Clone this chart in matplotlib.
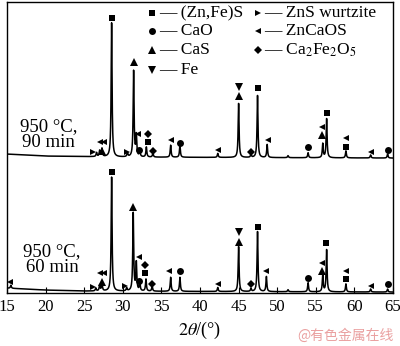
import numpy as np
import matplotlib
matplotlib.use('Agg')
import matplotlib.pyplot as plt

plt.rcParams['font.family'] = ['Liberation Serif', 'DejaVu Serif']
plt.rcParams['mathtext.fontset'] = 'stix'

# ---- data (intensity in arbitrary units) ----
# upper pattern: 950 C, 90 min
up_base_x = [15, 20, 30, 65]
up_base_y = [139, 137, 136, 135]
up_pk_x = [26.6, 27.0, 27.3, 28.55, 30.6, 31.4, 31.75, 32.2, 33.05, 33.9,
           36.2, 37.4, 42.3, 45.0, 46.6, 47.45, 48.7, 51.4, 54.0, 55.9,
           56.4, 58.9, 62.1, 64.3]
up_pk_h = [4, 6, 8, 134, 4, 86, 21, 6, 10, 4,
           12, 12, 4, 54, 3, 62, 13, 2, 5, 14,
           39, 7, 3, 4]

# lower pattern: 950 C, 60 min
lo_base_x = [15, 20, 25, 65]
lo_base_y = [5, 3, 2, 1]
lo_pk_x = [15.5, 26.5, 27.0, 27.3, 28.55, 30.5, 31.35, 31.75, 32.2, 33.0,
           33.8, 36.2, 37.4, 42.3, 45.0, 46.6, 47.45, 48.6, 51.4, 54.0,
           55.9, 56.4, 58.9, 62.1, 64.3]
lo_pk_h = [3, 3, 6, 8, 114, 3, 78, 28, 8, 12,
           5, 14, 14, 4, 45, 3, 60, 15, 2, 9,
           17, 42, 8, 3, 3]

# phase markers: (2theta, height) for both patterns
phases = {
    'sq': ([28.55, 33.2, 47.45, 56.45, 58.9, 28.55, 32.9, 47.45, 56.3, 58.9],
           [275, 151, 205, 180, 146, 121, 20, 66, 50, 14]),
    'ci': ([32.15, 37.4, 54.0, 64.35, 32.1, 37.4, 54.0, 64.3],
           [143, 150, 146, 143, 12, 22, 15, 9]),
    'tu': ([27.35, 31.4, 45.0, 55.85, 27.35, 31.3, 45.0, 55.85],
           [142, 231, 197, 158, 11, 86, 51, 22]),
    'td': ([45.0, 45.0], [206, 61]),
    'tr': ([26.2, 30.6, 26.2, 30.3], [141, 141, 6, 7]),
    'tl': ([27.1, 27.6, 32.0, 36.2, 42.3, 48.8, 55.85, 58.9, 62.1,
            27.1, 27.6, 32.1, 36.0, 42.3, 48.6, 55.85, 58.9, 62.1, 15.4],
           [151, 151, 159, 153, 143, 153, 166, 155, 141,
            20, 20, 36, 22, 9, 22, 30, 22, 7, 11]),
    'di': ([33.2, 33.85, 46.6, 32.9, 33.8, 46.6],
           [159, 142, 141, 28, 9, 9]),
}
mk = {'sq': 's', 'ci': 'o', 'tu': '^', 'td': 'v', 'tr': '>', 'tl': '<', 'di': 'D'}
msz = {'sq': 5, 'ci': 5, 'tu': 5.5, 'td': 5.5, 'tr': 5, 'tl': 5, 'di': 4}

legend_items = [('sq', '— (Zn,Fe)S'), ('ci', '— CaO'), ('tu', '— CaS'), ('td', '— Fe'),
                ('tr', '— ZnS wurtzite'), ('tl', '— ZnCaOS'),
                ('di', '— Ca$_2$Fe$_2$O$_5$')]

# ---- build profiles ----
x = np.linspace(15, 65, 5001)


def pattern(bx, by, px, ph, w=0.07):
    y = np.interp(x, bx, by)
    for p, h in zip(px, ph):
        y = y + h / (1 + ((x - p) / w) ** 2)
    return y


y_up = pattern(up_base_x, up_base_y, up_pk_x, up_pk_h)
y_lo = pattern(lo_base_x, lo_base_y, lo_pk_x, lo_pk_h)

fig = plt.figure(figsize=(4, 3.46), dpi=100)
ax = fig.add_axes([0.0175, 0.153, 0.965, 0.841])

ax.plot(x, y_up, 'k-', linewidth=1.1)
ax.plot(x, y_lo, 'k-', linewidth=1.1)

for key, (mx, my) in phases.items():
    ax.plot(mx, my, linestyle='none', marker=mk[key], color='k',
            markersize=msz[key], markeredgewidth=0)

# legend built by hand
rows = [0.962, 0.900, 0.835, 0.766]
for i, (key, lab) in enumerate(legend_items):
    if i < 4:
        mxp, txp, ry = 0.376, 0.393, rows[i]
    else:
        mxp, txp, ry = 0.650, 0.667, rows[i - 4]
    ax.plot([mxp], [ry], transform=ax.transAxes, marker=mk[key], color='k',
            markersize=msz[key], markeredgewidth=0, linestyle='none')
    ax.text(txp, ry, lab, transform=ax.transAxes, fontsize=12.5, va='center', ha='left')

ax.text(48, 160, '950 °C,\n90 min', fontsize=13.5, ha='center', va='center',
        linespacing=0.95, transform=ax.transData)
ax.set_xlim(15, 65)
ax.set_ylim(0, 291)
ax.texts[-1].set_transform(ax.transAxes)
ax.texts[-1].set_position((0.107, 0.545))
ax.text(0.117, 0.115, '950 °C,\n60 min', fontsize=13.5, ha='center', va='center',
        linespacing=0.95, transform=ax.transAxes)

ax.set_xticks(np.arange(15, 66, 5))
ax.set_yticks([])
ax.tick_params(axis='x', direction='in', length=4, labelsize=12, pad=4)
for s in ax.spines.values():
    s.set_linewidth(1.0)
ax.set_xlabel(r'$2\theta$/(°)', fontsize=13, labelpad=4)

fig.text(0.985, 0.03, '@有色金属在线', fontsize=10, color='#eaa0a0', ha='right', va='center',
         family=['Noto Sans CJK SC', 'DejaVu Sans'])

fig.savefig('out.png', dpi=100)
